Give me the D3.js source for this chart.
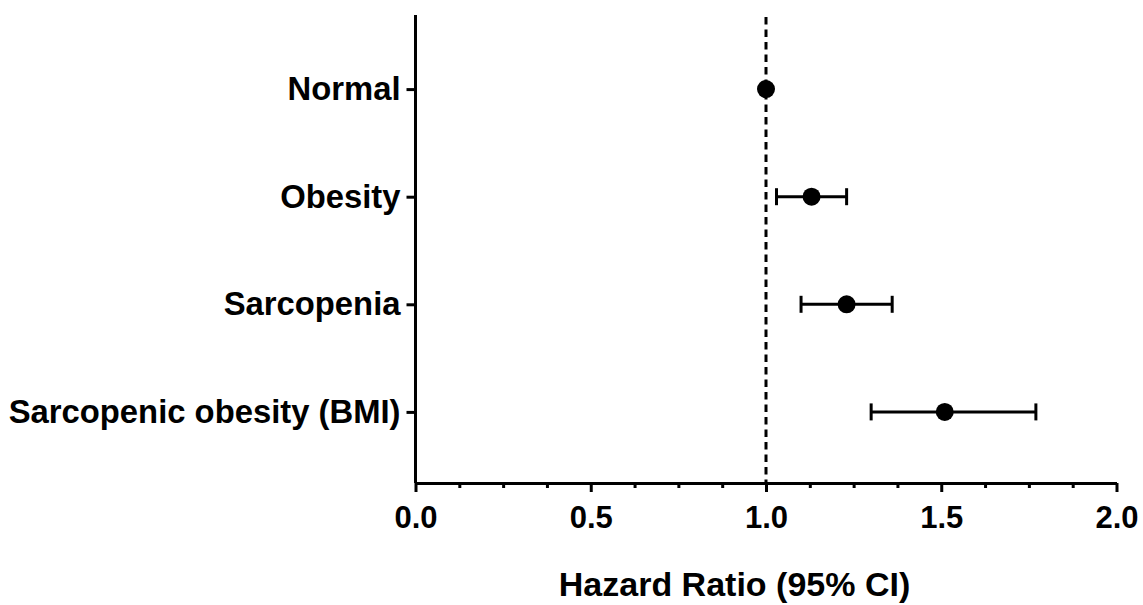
<!DOCTYPE html>
<html>
<head>
<meta charset="utf-8">
<script src="https://cdn.jsdelivr.net/npm/d3@7"></script>
<style>
  html,body{margin:0;padding:0;background:#fff;}
  svg{display:block;}
  .axis path,.axis line{stroke:#000;stroke-width:3;}
  .axis text{font-family:"Liberation Sans",Arial,sans-serif;font-weight:bold;fill:#000;}
</style>
</head>
<body>
<svg id="chart" width="1143" height="605"></svg>
<script>
/* ── forest plot data ── */
var categories=['Normal','Obesity','Sarcopenia','Sarcopenic obesity (BMI)'];
var hazard=[1.0,1.13,1.23,1.51];
var ciLow=[1.0,1.03,1.10,1.30];
var ciHigh=[1.0,1.23,1.36,1.77];
var xMajor=[0,0.5,1,1.5,2];
var xMinor=[0.125,0.25,0.375,0.625,0.75,0.875,1.125,1.25,1.375,1.625,1.75,1.875];
var refLine=1.0;
var xTitle='Hazard Ratio (95% CI)';

var W=1143, H=605, ML=415.5, MR=26.5, MT=15, MB=122;
var iw=W-ML-MR, ih=H-MT-MB;
var FONT='"Liberation Sans",Arial,sans-serif';

var svg=d3.select('#chart');
var g=svg.append('g').attr('transform','translate('+ML+','+MT+')');

var x=d3.scaleLinear().domain([0,2]).range([0,iw]);
var y=d3.scalePoint().domain(categories).range([2,ih+1]).padding(0.67);

/* minor ticks first, major axis on top */
g.append('g').attr('class','axis').attr('transform','translate(0,'+ih+')')
  .call(d3.axisBottom(x).tickValues(xMinor).tickSize(5).tickFormat(''))
  .select('.domain').remove();

var xa=g.append('g').attr('class','axis').attr('transform','translate(0,'+ih+')')
  .call(d3.axisBottom(x).tickValues(xMajor).tickSize(9).tickSizeOuter(0).tickPadding(14).tickFormat(d3.format('.1f')));
xa.selectAll('text').attr('font-size','31px');

var ya=g.append('g').attr('class','axis')
  .call(d3.axisLeft(y).tickSize(9).tickSizeOuter(0).tickPadding(6));
ya.select('.domain').attr('d','M0,0V'+ih);
ya.selectAll('text').attr('font-size','32.8px');

/* reference line at HR = 1 */
g.append('line')
  .attr('x1',x(refLine)).attr('x2',x(refLine))
  .attr('y1',2).attr('y2',ih)
  .attr('stroke','#000').attr('stroke-width',3).attr('stroke-dasharray','7.5,5');

/* error bars + points */
categories.forEach(function(c,i){
  var cy=y(c);
  var eg=g.append('g');
  if(ciHigh[i]>ciLow[i]){
    eg.append('line').attr('x1',x(ciLow[i])).attr('x2',x(ciHigh[i]))
      .attr('y1',cy).attr('y2',cy).attr('stroke','#000').attr('stroke-width',3);
    [ciLow[i],ciHigh[i]].forEach(function(v){
      eg.append('line').attr('x1',x(v)).attr('x2',x(v))
        .attr('y1',cy-8.5).attr('y2',cy+8.5).attr('stroke','#000').attr('stroke-width',3);
    });
  }
  eg.append('circle').attr('cx',x(hazard[i])).attr('cy',cy).attr('r',9).attr('fill','#000');
});

/* axis title */
svg.append('text')
  .attr('x',734.5).attr('y',596)
  .attr('text-anchor','middle')
  .attr('font-family',FONT).attr('font-weight','bold').attr('font-size','34px')
  .text(xTitle);
</script>
</body>
</html>
